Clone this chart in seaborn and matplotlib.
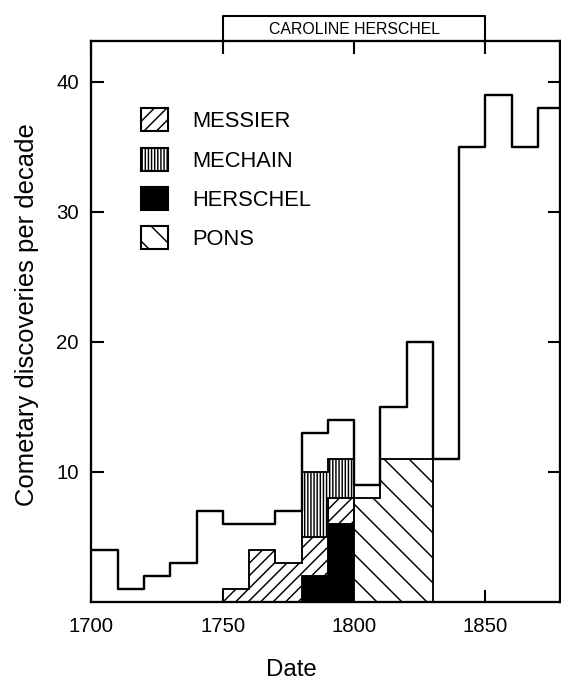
import matplotlib
matplotlib.use("Agg")
import matplotlib.pyplot as plt
from matplotlib.patches import Patch
import numpy as np
import pandas as pd
import seaborn as sns

sns.set_theme(style="ticks")
plt.rcParams["font.family"] = ["Liberation Sans", "DejaVu Sans"]
plt.rcParams["hatch.linewidth"] = 0.7
plt.rcParams["text.color"] = "black"
plt.rcParams["axes.labelcolor"] = "black"

# comets found per decade (left edge of each decade)
decades = [1700, 1710, 1720, 1730, 1740, 1750, 1760, 1770, 1780,
           1790, 1800, 1810, 1820, 1830, 1840, 1850, 1860, 1870]
total = [4, 1, 2, 3, 7, 6, 6, 7, 13, 14, 9, 15, 20, 11, 35, 39, 35, 38]

herschel_decades = [1780, 1790]
herschel = [2, 6]
messier_decades = [1750, 1760, 1770, 1780, 1790]
messier = [1, 4, 3, 3, 2]
mechain_decades = [1780, 1790]
mechain = [5, 3]
pons_decades = [1800, 1810, 1820]
pons = [8, 11, 11]

caroline_span = [1750, 1850]

MESSIER_HATCH = "////"
MECHAIN_HATCH = "||||||||"
PONS_HATCH = "\\\\"

fig = plt.figure(figsize=(561 / 150, 680 / 150), dpi=150)
ax = fig.add_axes([0.1631, 0.1147, 0.836, 0.8243])


def shade(ax, starts, counts, base, **kw):
    """Stacked stepped region for one observer, drawn as one outline."""
    edges = list(starts) + [starts[-1] + 10]
    tops = np.asarray(base) + np.asarray(counts)
    ax.stairs(tops, edges, baseline=base, fill=True, edgecolor="black",
              linewidth=0.9, **kw)


# stacking order: Herschel at the bottom, Messier, then Mechain
h_lookup = dict(zip(herschel_decades, herschel))
m_lookup = dict(zip(messier_decades, messier))
messier_bottom = [h_lookup.get(d, 0) for d in messier_decades]
mechain_bottom = [h_lookup.get(d, 0) + m_lookup.get(d, 0) for d in mechain_decades]

shade(ax, herschel_decades, herschel, [0] * len(herschel), facecolor="black")
shade(ax, messier_decades, messier, messier_bottom, facecolor="white",
      hatch=MESSIER_HATCH)
shade(ax, mechain_decades, mechain, mechain_bottom, facecolor="white",
      hatch=MECHAIN_HATCH)
shade(ax, pons_decades, pons, [0] * len(pons), facecolor="white",
      hatch=PONS_HATCH)

# outline of all discoveries
df = pd.DataFrame({"decade": decades, "count": total})
edges = list(range(decades[0], decades[-1] + 20, 10))
sns.histplot(data=df, x="decade", weights="count", bins=edges, element="step",
             fill=False, color="black", linewidth=1.15, ax=ax)

ax.set_xlim(1700, 1878.6)
ax.set_ylim(0, 43.1)
ax.set_xticks([1700, 1750, 1800, 1850])
ax.set_yticks([10, 20, 30, 40])
ax.tick_params(direction="in", length=6, width=1.0, top=True, right=True,
               labelsize=9.8, colors="black")
ax.tick_params(axis="x", pad=7)
ax.tick_params(axis="y", pad=6)
for sp in ax.spines.values():
    sp.set_linewidth(1.1)
    sp.set_color("black")

ax.set_xlabel("Date", fontsize=11.5, va="center")
ax.xaxis.set_label_coords((291 - 91.5) / 469, (602 - 670) / 560.5)
ax.set_ylabel("Cometary discoveries per decade", fontsize=12.3, va="center")
ax.yaxis.set_label_coords((27 - 91.5) / 469, (602 - 315) / 560.5)

# Caroline Herschel's lifetime bracket above the frame
ax.plot([caroline_span[0], caroline_span[0], caroline_span[1], caroline_span[1]],
        [43.1, 45.06, 45.06, 43.1], color="black", lw=1.0, clip_on=False)
ax.text(np.mean(caroline_span), 44.0, "CAROLINE HERSCHEL", ha="center",
        va="center", fontsize=7.6, clip_on=False)

handles = [
    Patch(facecolor="white", edgecolor="black", hatch=MESSIER_HATCH, label="MESSIER"),
    Patch(facecolor="white", edgecolor="black", hatch=MECHAIN_HATCH, label="MECHAIN"),
    Patch(facecolor="black", edgecolor="black", label="HERSCHEL"),
    Patch(facecolor="white", edgecolor="black", hatch=PONS_HATCH, label="PONS"),
]
ax.legend(handles=handles, loc="upper left",
          bbox_to_anchor=(140.6 / 561, 1 - 108.5 / 680),
          bbox_transform=fig.transFigure, frameon=False, fontsize=10.5,
          handlelength=1.26, handleheight=1.23, handletextpad=1.09,
          labelspacing=0.71, borderpad=0, borderaxespad=0)

fig.savefig("out.png", dpi=150)
